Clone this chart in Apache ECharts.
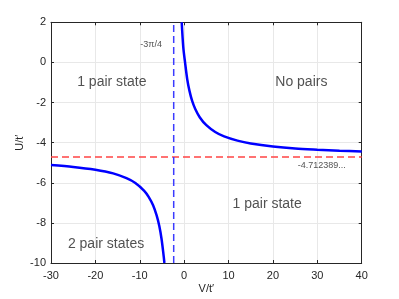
<!DOCTYPE html>
<html><head><meta charset="utf-8">
<script src="https://cdn.jsdelivr.net/npm/echarts@6/dist/echarts.min.js"></script>
<style>html,body{margin:0;padding:0;background:#fff}#c{width:399px;height:299px}</style>
</head><body><div id="c"></div>
<script>
// Right branch (V > -3π/4)
const rightV = [-0.55, -0.2, 0.2, 0.7, 1.2, 1.8, 2.5, 3.5, 5, 7, 9, 12, 15, 20, 25, 30, 35, 40];
const rightU = [2, 0.76, 0, -0.85, -1.42, -1.92, -2.32, -2.73, -3.13, -3.47, -3.69, -3.9, -4.04, -4.19, -4.29, -4.35, -4.4, -4.44];
// Left branch (V < -3π/4)
const leftV = [-30, -25, -20, -16, -13, -11, -9, -8, -7, -6.2, -5.6, -5.1, -4.7, -4.45];
const leftU = [-5.12, -5.21, -5.35, -5.53, -5.77, -6.01, -6.4, -6.7, -7.12, -7.63, -8.16, -8.79, -9.49, -10];
// Asymptotes
const vAsym = -3 * Math.PI / 4;
const uAsym = -4.712389;
const vAsymLabel = '-3π/4';
const uAsymLabel = '-4.712389...';
// Region annotations
const noteText = ['1 pair state', 'No pairs', '1 pair state', '2 pair states'];
const noteV = [-16.3, 26.4, 18.7, -17.6];
const noteU = [-1.0, -1.0, -7.05, -9.05];
// Axis ticks
const xTicks = [-30, -20, -10, 0, 10, 20, 30, 40];
const yTicks = [-10, -8, -6, -4, -2, 0, 2];

const axisColor = '#262626';
const font = 'Liberation Sans, Arial, Helvetica, sans-serif';
const chart = echarts.init(document.getElementById('c'));
const zip = (a, b) => a.map((v, i) => [v, b[i]]);

chart.setOption({
  animation: false,
  grid: { left: 51, right: 37.3, top: 22.3, bottom: 35.7 },
  xAxis: [{
    type: 'value', min: xTicks[0], max: xTicks[xTicks.length - 1], interval: 10,
    name: 'V/t′', nameLocation: 'middle', nameGap: 20, nameMoveOverlap: false,
    nameTextStyle: { color: axisColor, fontSize: 11, fontFamily: font },
    axisLine: { onZero: false, lineStyle: { color: axisColor, width: 1 } },
    axisTick: { inside: true, length: 3, lineStyle: { color: axisColor } },
    axisLabel: { color: axisColor, fontSize: 11, fontFamily: font, margin: 7 },
    splitLine: { show: true, lineStyle: { color: '#e8e8e8', width: 1 } }
  }, {
    type: 'value', position: 'top', min: xTicks[0], max: xTicks[xTicks.length - 1], interval: 10,
    axisLine: { onZero: false, lineStyle: { color: axisColor, width: 1 } },
    axisTick: { inside: true, length: 3, lineStyle: { color: axisColor } },
    axisLabel: { show: false }, splitLine: { show: false }
  }],
  yAxis: [{
    type: 'value', min: yTicks[0], max: yTicks[yTicks.length - 1], interval: 2,
    name: 'U/t′', nameLocation: 'middle', nameGap: 26, nameMoveOverlap: false,
    nameTextStyle: { color: axisColor, fontSize: 11, fontFamily: font },
    axisLine: { onZero: false, show: true, lineStyle: { color: axisColor, width: 1 } },
    axisTick: { show: true, inside: true, length: 3, lineStyle: { color: axisColor } },
    axisLabel: { color: axisColor, fontSize: 11, fontFamily: font, margin: 5 },
    splitLine: { show: true, lineStyle: { color: '#e8e8e8', width: 1 } }
  }, {
    type: 'value', position: 'right', min: yTicks[0], max: yTicks[yTicks.length - 1], interval: 2,
    axisLine: { onZero: false, show: true, lineStyle: { color: axisColor, width: 1 } },
    axisTick: { show: true, inside: true, length: 3, lineStyle: { color: axisColor } },
    axisLabel: { show: false }, splitLine: { show: false }
  }],
  series: [
    {
      type: 'line', data: [[xTicks[0], uAsym], [xTicks[xTicks.length - 1], uAsym]],
      symbol: 'none', lineStyle: { color: '#ff4444', width: 1.5, type: [7, 4] }, z: 2
    },
    {
      type: 'line', data: [[vAsym, yTicks[0]], [vAsym, yTicks[yTicks.length - 1]]],
      symbol: 'none', lineStyle: { color: '#3b3bff', width: 1.5, type: [7, 4] }, z: 2
    },
    {
      type: 'line', data: zip(rightV, rightU), smooth: 0.3,
      symbol: 'none', lineStyle: { color: '#0000ff', width: 2.5 }, z: 3
    },
    {
      type: 'line', data: zip(leftV, leftU), smooth: 0.3,
      symbol: 'none', lineStyle: { color: '#0000ff', width: 2.5 }, z: 3
    },
    {
      type: 'scatter', symbolSize: 0, silent: true, z: 5,
      data: noteText.map((t, i) => ({ value: [noteV[i], noteU[i]], name: t })),
      label: { show: true, position: 'inside', formatter: p => p.name,
        color: '#262626', fontSize: 14, fontFamily: font }
    },
    {
      type: 'scatter', symbolSize: 0, silent: true, z: 5,
      data: [
        { value: [-7.45, 0.87], name: vAsymLabel },
        { value: [31.0, -5.12], name: uAsymLabel }
      ],
      label: { show: true, position: 'inside', formatter: p => p.name,
        color: '#262626', fontSize: 9, fontFamily: font }
    }
  ]
});
</script></body></html>
